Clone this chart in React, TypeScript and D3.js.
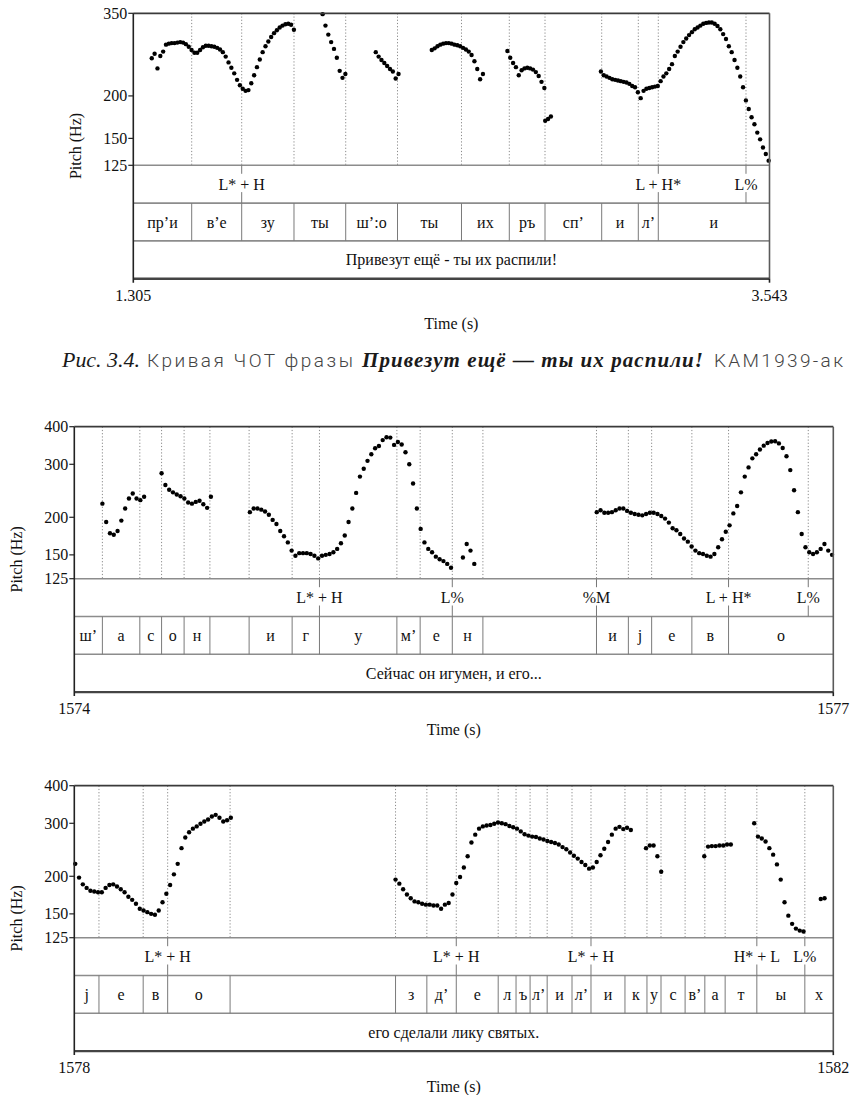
import React from 'react';
import * as d3 from 'd3';

// Praat-style pitch tracks (Hz, one value per analysis frame) with TextGrid tiers

// ---- panel 1: "Привезут ещё - ты их распили!" ----
const p1Range = [1.305, 3.543];
const p1TimeLabels = ['1.305', '3.543'];
const p1HzTicks = [125, 150, 200, 350];
const p1Step = 0.01;
const p1Starts = [1.370, 1.971, 2.158, 2.355, 2.621, 2.754, 2.950];
const p1HzA = [258, 266, 241, 262, 270, 283, 285, 286, 286, 287, 288, 287, 284, 279, 273, 268, 268, 273, 278, 281, 281, 280, 279, 277, 274, 269, 261, 251, 242, 233, 223, 215, 210, 207, 208, 218, 230, 243, 256, 269, 280, 289, 298, 306, 312, 318, 322, 325, 326, 324, 313];
const p1HzB = [348, 322, 303, 288, 275, 259, 237, 226, 232];
const p1HzC = [269, 261, 255, 250, 245, 240, 236, 225, 232];
const p1HzD = [273, 276, 280, 283, 285, 286, 286, 285, 283, 282, 280, 277, 274, 270, 264, 253, 240, 224, 232];
const p1HzE = [271, 259, 250, 243, 230, 238, 241, 242, 241, 239, 235, 229, 220, 211];
const p1HzF = [169, 171, 174];
const p1HzG = [236, 230, 228, 226, 224, 223, 222, 221, 220, 219, 217, 214, 212, 205, 197, 207, 210, 211, 212, 213, 214, 221, 228, 233, 240, 248, 262, 270, 279, 288, 295, 302, 308, 314, 318, 322, 326, 328, 329, 329, 326, 321, 314, 304, 294, 280, 269, 255, 242, 228, 212, 194, 183, 173, 165, 156, 149, 141, 135, 129];
const p1Bounds = [1.5104, 1.6863, 1.8703, 2.0522, 2.2344, 2.4595, 2.6277, 2.7533, 2.9527, 3.0815, 3.1518];
const p1Segs = ['пр’и', 'в’е', 'зу', 'ты', 'ш’:о', 'ты', 'их', 'ръ', 'сп’', 'и', 'л’', 'и'];
const p1ToneTimes = [1.6863, 3.1518, 3.4603];
const p1Tones = ['L*+H', 'L+H*', 'L%'];
const p1Sentence = 'Привезут ещё - ты их распили!';

// ---- panel 2: "Сейчас он игумен, и его..." ----
const p2Range = [1574, 1577];
const p2TimeLabels = ['1574', '1577'];
const p2HzTicks = [125, 150, 200, 300, 400];
const p2Step = 0.015;
const p2Starts = [1574.111, 1574.345, 1574.694, 1575.536, 1576.065];
const p2HzA = [222, 193, 177, 175, 180, 195, 214, 231, 240, 231, 228, 234];
const p2HzB = [280, 256, 247, 242, 238, 235, 231, 224, 222, 225, 227, 221, 215, 234];
const p2HzC = [208, 214, 214, 212, 209, 204, 196, 190, 180, 173, 165, 155, 149, 152, 152, 152, 151, 149, 146, 149, 150, 151, 153, 157, 164, 174, 193, 214, 241, 273, 290, 308, 324, 339, 345, 361, 369, 368, 348, 356, 349, 329, 300, 259, 214, 183, 165, 157, 153, 148, 145, 143, 140, 136];
const p2HzD = [147, 163, 155, 140];
const p2HzE = [208, 211, 207, 207, 208, 211, 214, 214, 210, 207, 205, 204, 203, 205, 207, 207, 205, 202, 198, 192, 184, 181, 176, 170, 166, 160, 155, 152, 151, 149, 148, 151, 159, 169, 179, 188, 206, 218, 242, 273, 293, 314, 324, 336, 346, 353, 357, 358, 352, 340, 319, 287, 246, 208, 176, 159, 153, 151, 153, 157, 163, 155, 150];
const p2Bounds = [1574.111, 1574.259, 1574.345, 1574.434, 1574.536, 1574.691, 1574.861, 1574.969, 1575.275, 1575.367, 1575.494, 1575.615, 1576.064, 1576.190, 1576.282, 1576.441, 1576.586];
const p2Segs = ['ш’', 'а', 'с', 'о', 'н', '', 'и', 'г', 'у', 'м’', 'е', 'н', '', 'и', 'j', 'е', 'в', 'о'];
const p2ToneTimes = [1574.969, 1575.494, 1576.064, 1576.586, 1576.901];
const p2Tones = ['L*+H', 'L%', '%M', 'L+H*', 'L%'];
const p2Sentence = 'Сейчас он игумен, и его...';

// ---- panel 3: "его сделали лику святых." ----
const p3Range = [1578, 1582];
const p3TimeLabels = ['1578', '1582'];
const p3HzTicks = [125, 150, 200, 300, 400];
const p3Step = 0.02;
const p3Starts = [1578.005, 1579.693, 1581.013, 1581.320, 1581.583, 1581.934];
const p3HzA = [220, 198, 188, 183, 179, 178, 177, 177, 183, 187, 188, 185, 181, 177, 171, 167, 162, 156, 154, 152, 150, 149, 154, 164, 175, 187, 203, 220, 248, 269, 280, 288, 293, 299, 304, 309, 316, 320, 313, 304, 307, 313];
const p3HzB = [195, 189, 181, 174, 169, 165, 164, 162, 161, 161, 160, 160, 156, 161, 163, 174, 190, 199, 214, 233, 259, 275, 288, 293, 295, 296, 299, 302, 300, 298, 294, 291, 288, 282, 276, 273, 271, 270, 267, 265, 262, 260, 258, 255, 250, 246, 240, 234, 229, 223, 218, 212, 214, 223, 235, 247, 260, 275, 288, 292, 287, 290, 285];
const p3HzC = [248, 253, 253, 233, 207];
const p3HzD = [233, 251, 252, 252, 253, 253, 255, 255];
const p3HzE = [300, 271, 267, 261, 248, 236, 219, 195, 164, 148, 139, 134, 132, 131];
const p3HzF = [168, 169];
const p3Bounds = [1578.130, 1578.363, 1578.492, 1578.821, 1579.693, 1579.858, 1580.013, 1580.234, 1580.328, 1580.402, 1580.492, 1580.623, 1580.723, 1580.902, 1581.018, 1581.092, 1581.219, 1581.323, 1581.430, 1581.597, 1581.850];
const p3Segs = ['j', 'е', 'в', 'о', '', 'з', 'д’', 'е', 'л', 'ъ', 'л’', 'и', 'л’', 'и', 'к', 'у', 'с', 'в’', 'а', 'т', 'ы', 'х'];
const p3ToneTimes = [1578.492, 1580.013, 1580.723, 1581.597, 1581.850];
const p3Tones = ['L*+H', 'L*+H', 'L*+H', 'H*+L', 'L%'];
const p3Sentence = 'его сделали лику святых.';

const SERIF = 'Liberation Serif, Times New Roman, serif';
const PITCH_H = 152;
const TIER_H = 37.8;

type PanelProps = {
  top: number;
  left: number;
  right: number;
  range: number[];
  timeLabels: string[];
  hzTicks: number[];
  step: number;
  starts: number[];
  voiced: number[][];
  bounds: number[];
  segs: string[];
  toneTimes: number[];
  tones: string[];
  sentence: string;
  ylabelX: number;
  timeLabelY: number;
};

const Panel = (p: PanelProps) => {
  const base = p.top + PITCH_H;
  const tierY = [base, base + TIER_H, base + 2 * TIER_H, base + 3 * TIER_H];
  const bottom = tierY[3];

  const x = d3.scaleLinear().domain(p.range).range([p.left, p.right]);
  const y = d3
    .scaleLog()
    .domain([p.hzTicks[0], p.hzTicks[p.hzTicks.length - 1]])
    .range([base, p.top]);

  // dotted guides at every interval boundary and tone point
  const guides = Array.from(new Set([...p.bounds, ...p.toneTimes]));
  const dots = p.voiced.flatMap((hz, i) =>
    hz.map((f, k) => ({ t: p.starts[i] + k * p.step, f }))
  );
  const edges = [p.range[0], ...p.bounds, p.range[1]];

  return (
    <g fontFamily={SERIF} fontSize={16} fill="#111">
      {guides.map((t, i) => (
        <line key={'g' + i} x1={x(t)} x2={x(t)} y1={p.top} y2={base}
          stroke="#8a8a8a" strokeWidth={1} strokeDasharray="1.2,2" />
      ))}

      {dots.map((d, i) => (
        <circle key={'d' + i} cx={x(d.t)} cy={y(d.f)} r={2.2} fill="#000" />
      ))}

      {/* tier separators */}
      <line x1={p.left} x2={p.right} y1={tierY[0]} y2={tierY[0]} stroke="#8c8c8c" strokeWidth={1.6} />
      <line x1={p.left} x2={p.right} y1={tierY[1]} y2={tierY[1]} stroke="#8c8c8c" strokeWidth={1.6} />
      <line x1={p.left} x2={p.right} y1={tierY[2]} y2={tierY[2]} stroke="#8c8c8c" strokeWidth={1.6} />

      {/* tone tier: points */}
      {p.toneTimes.map((t, i) => (
        <g key={'tp' + i}>
          <line x1={x(t)} x2={x(t)} y1={tierY[0]} y2={tierY[0] + 8.5} stroke="#777" strokeWidth={1} />
          <line x1={x(t)} x2={x(t)} y1={tierY[1] - 11} y2={tierY[1]} stroke="#777" strokeWidth={1} />
          <text x={x(t)} y={(tierY[0] + tierY[1]) / 2} textAnchor="middle" dominantBaseline="central">
            {p.tones[i].replace('+', ' + ')}
          </text>
        </g>
      ))}

      {/* segment tier */}
      {p.bounds.map((t, i) => (
        <line key={'b' + i} x1={x(t)} x2={x(t)} y1={tierY[1]} y2={tierY[2]} stroke="#7a7a7a" strokeWidth={1} />
      ))}
      {p.segs.map((s, i) => (
        <text key={'s' + i} x={(x(edges[i]) + x(edges[i + 1])) / 2} y={(tierY[1] + tierY[2]) / 2}
          textAnchor="middle" dominantBaseline="central">
          {s}
        </text>
      ))}

      {/* sentence tier */}
      <text x={(p.left + p.right) / 2} y={(tierY[2] + tierY[3]) / 2} textAnchor="middle" dominantBaseline="central">
        {p.sentence}
      </text>

      {/* frame */}
      <line x1={p.left} x2={p.right} y1={p.top} y2={p.top} stroke="#3a3a3a" strokeWidth={1.7} />
      <line x1={p.right} x2={p.right} y1={p.top} y2={bottom} stroke="#5a5a5a" strokeWidth={1.6} />
      <line x1={p.left} x2={p.right} y1={bottom} y2={bottom} stroke="#444" strokeWidth={2.4} />
      <line x1={p.left} x2={p.left} y1={p.top} y2={bottom + 4} stroke="#222" strokeWidth={1.6} />
      <line x1={p.right} x2={p.right} y1={bottom} y2={bottom + 4} stroke="#222" strokeWidth={1.6} />

      {/* pitch axis */}
      {p.hzTicks.map((v) => (
        <g key={'yt' + v}>
          <line x1={p.left - 5} x2={p.left} y1={y(v)} y2={y(v)} stroke="#222" strokeWidth={1.2} />
          <text x={p.left - 6} y={y(v)} textAnchor="end" dominantBaseline="central">{v}</text>
        </g>
      ))}
      <text transform={`translate(${p.ylabelX},${(p.top + bottom) / 2}) rotate(-90)`}
        textAnchor="middle" dominantBaseline="central">
        Pitch (Hz)
      </text>

      {/* time axis */}
      <text x={p.left} y={bottom + 16.5} textAnchor="middle" dominantBaseline="central">{p.timeLabels[0]}</text>
      <text x={p.right} y={bottom + 16.5} textAnchor="middle" dominantBaseline="central">{p.timeLabels[1]}</text>
      <text x={(p.left + p.right) / 2} y={p.timeLabelY} textAnchor="middle" dominantBaseline="central">Time (s)</text>
    </g>
  );
};

const App = () => {
  return (
    <svg width={851} height={1095} style={{ position: 'absolute', left: 0, top: 0, background: '#fff' }}>
      <rect width={851} height={1095} fill="#fff" />

      <Panel top={13.3} left={133.3} right={769.5} range={p1Range} timeLabels={p1TimeLabels}
        hzTicks={p1HzTicks} step={p1Step} starts={p1Starts}
        voiced={[p1HzA, p1HzB, p1HzC, p1HzD, p1HzE, p1HzF, p1HzG]}
        bounds={p1Bounds} segs={p1Segs} toneTimes={p1ToneTimes} tones={p1Tones}
        sentence={p1Sentence} ylabelX={75} timeLabelY={323} />

      {/* figure caption */}
      <text x={62} y={367} fontFamily={SERIF} fontStyle="italic" fontSize={21} fill="#1a1a1a"
        textLength={78} lengthAdjust="spacingAndGlyphs">Рис. 3.4.</text>
      <text x={147} y={367} fontFamily="Roboto, sans-serif" fontWeight={300} fontSize={19} fill="#444"
        textLength={206} lengthAdjust="spacing">Кривая ЧОТ фразы</text>
      <text x={362} y={367} fontFamily={SERIF} fontStyle="italic" fontWeight="bold" fontSize={21} fill="#1a1a1a"
        textLength={341} lengthAdjust="spacing">Привезут ещё — ты их распили!</text>
      <text x={714} y={367} fontFamily="Roboto, sans-serif" fontWeight={300} fontSize={19} fill="#444"
        textLength={129} lengthAdjust="spacing">KAM1939-ак</text>

      <Panel top={426.7} left={74.3} right={833.3} range={p2Range} timeLabels={p2TimeLabels}
        hzTicks={p2HzTicks} step={p2Step} starts={p2Starts}
        voiced={[p2HzA, p2HzB, p2HzC, p2HzD, p2HzE]}
        bounds={p2Bounds} segs={p2Segs} toneTimes={p2ToneTimes} tones={p2Tones}
        sentence={p2Sentence} ylabelX={16} timeLabelY={729} />

      <Panel top={785.7} left={74.3} right={833.3} range={p3Range} timeLabels={p3TimeLabels}
        hzTicks={p3HzTicks} step={p3Step} starts={p3Starts}
        voiced={[p3HzA, p3HzB, p3HzC, p3HzD, p3HzE, p3HzF]}
        bounds={p3Bounds} segs={p3Segs} toneTimes={p3ToneTimes} tones={p3Tones}
        sentence={p3Sentence} ylabelX={16} timeLabelY={1086} />
    </svg>
  );
};

export default App;
